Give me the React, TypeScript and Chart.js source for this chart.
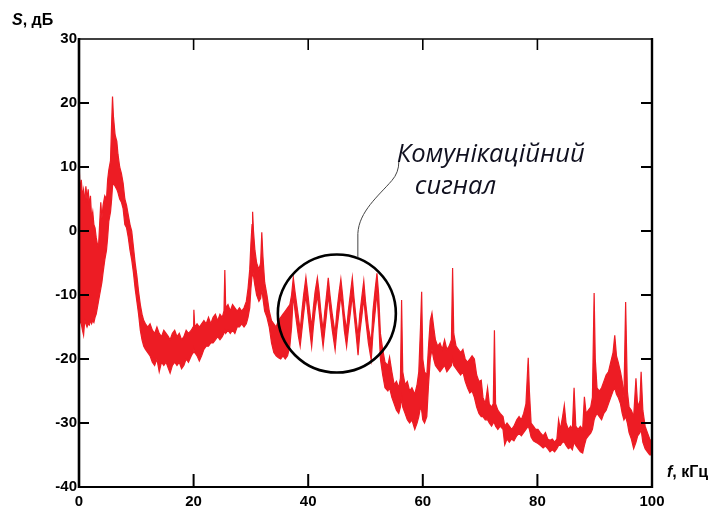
import { useEffect, useRef } from "react";
import { Chart, registerables } from "chart.js";

Chart.register(...registerables);

// Frequency, kHz
const freqKHz = [
  0, 0.2, 0.4, 0.6, 0.8, 1.0, 1.2, 1.4, 1.6, 1.8, 2.0, 2.2, 2.4, 2.6, 2.8, 3.0, 3.2, 3.4, 3.6, 3.8, 4.0, 4.2, 4.5, 4.8, 5.0, 5.2, 5.5, 5.7, 5.85, 6.0, 6.3, 6.6, 6.8, 7.1, 7.4, 7.7, 8.0, 8.3, 8.6, 8.9, 9.2, 9.5, 9.8, 10.1, 10.4, 10.7, 11.0, 11.3, 11.6, 12.0, 12.4, 12.8, 13.2, 13.6,
  14.0, 14.4, 14.8, 15.2, 15.6, 15.9, 16.3, 16.7, 17.1, 17.5, 17.9, 18.3, 18.7, 19.1, 19.6, 19.9, 20.05, 20.2, 20.6, 21.0, 21.4, 21.8, 22.2, 22.6, 23.0, 23.4, 23.8, 24.2, 24.6, 25.0, 25.3, 25.45, 25.6, 26.0, 26.4, 26.8, 27.2, 27.6, 28.0, 28.4, 28.8, 29.2, 29.5, 29.8, 30.0, 30.2, 30.3, 30.45, 30.7, 31.0, 31.4, 31.7, 31.9, 32.1, 32.4, 32.8, 33.2, 33.6, 34.0, 34.4, 34.8,
  35.2, 35.6, 36.0, 36.4, 36.8, 37.1, 37.4, 37.7, 38.0, 38.3, 38.6, 38.9, 39.2, 39.6, 39.9, 40.2, 40.6, 40.9, 41.2, 41.6, 41.9, 42.2, 42.6, 42.9, 43.2, 43.5, 43.8, 44.2, 44.7, 45.0, 45.4, 45.7, 46.0, 46.3, 46.7, 47.0, 47.4, 47.7, 48.0, 48.4, 48.7, 49.0, 49.4, 49.7, 50.0, 50.5, 51.0, 51.3, 51.7, 52.0, 52.3, 52.6, 53.0,
  53.4, 53.9, 54.2, 54.6, 55.0, 55.4, 55.8, 56.1, 56.3, 56.5, 56.9, 57.3, 57.7, 58.1, 58.6, 59.0, 59.3, 59.6, 59.8, 60.0, 60.3, 60.7, 61.0, 61.3, 61.6, 61.9, 62.2, 62.6, 63.0, 63.4, 63.8, 64.2, 64.6, 65.0, 65.2, 65.4, 65.8, 66.2, 66.6, 67.0, 67.4, 67.8, 68.2, 68.6, 69.0, 69.4, 69.8,
  70.2, 70.5, 70.9, 71.3, 71.6, 72.0, 72.3, 72.5, 72.7, 73.1, 73.5, 74.0, 74.3, 74.7, 75.1, 75.5, 75.9, 76.4, 76.8, 77.2, 77.6, 78.0, 78.4, 78.6, 78.9, 79.3, 79.7, 80.1, 80.5, 81.0, 81.4, 81.8, 82.2, 82.6, 83.0, 83.4, 83.7, 84.0, 84.4, 84.7, 85.0, 85.4, 85.8, 86.1, 86.4, 86.7, 87.1, 87.5, 87.9, 88.2, 88.5, 88.9, 89.3, 89.6, 89.9, 90.1, 90.4, 90.8, 91.2, 91.6, 92.0, 92.4, 92.8, 93.2, 93.5, 93.8, 94.1, 94.5, 94.8, 95.1, 95.4, 95.7, 96.0, 96.4, 96.8, 97.2, 97.5, 97.9, 98.1, 98.4, 98.8, 99.2, 99.6, 100,
];

// Upper envelope of the noisy spectrum, dB
const upperDb = [
  11, 6, 8, 5.5, 6.5, 4.5, 7, 5, 6.5, 4, 5.5, 2, 3, 1, 0.5, -1, -2, -2.5, 1, 4.5, 2, 4, 5.5, 5, 8, 9.5, 11, 17, 21, 18, 15, 14, 12, 10, 9, 7.5, 5, 4, 2.5, 1, 0, -2.5, -5, -7, -9.5, -11.5, -13, -14, -14.5, -15, -14.5, -15.5, -16, -15,
  -16, -16.5, -15.5, -16, -16.5, -17, -16, -15.5, -16.5, -16, -17, -16.5, -15.5, -16, -15.5, -15, -12.3, -15, -14.5, -15, -14.5, -14, -14.5, -13.5, -14.5, -13.5, -13, -14, -13, -13.5, -12.5, -6.1, -12, -11.5, -12.5, -11.5, -12, -12.5, -12, -12.5, -12, -11, -9, -6, -2, 1, 3, 0, -3, -5, -6, -5, -0.2, -4, -8, -10, -12.5, -14, -14.5, -15, -14,
  -13.5, -13, -12.5, -12, -11.5, -10, -7.3, -9.5, -11.5, -13.5, -15.5, -12.5, -10, -7.2, -9.5, -12, -15, -12, -9.5, -7.3, -9.5, -12.5, -15.5, -12.5, -10, -7.3, -10, -13, -16, -12.5, -9.5, -7.5, -10, -13, -15.5, -12.5, -9.5, -7.3, -10.5, -14, -16.5, -13, -10, -7.8, -11, -15, -17.5, -12.5, -9, -6.6, -10, -16, -18.5,
  -20.5, -21, -19.7, -22, -24, -23.5, -24.5, -23, -10.8, -22, -24, -23.5, -25, -24.5, -25.5, -24, -22, -15, -9.5, -20, -22, -22.5, -18, -14, -12.8, -15, -17, -18, -17.5, -18.5, -17, -18.5, -18, -17, -5.8, -16, -18, -18.5, -19, -18.5, -20, -20.5, -20, -19.5, -20, -22.5, -23.5,
  -23.3, -26, -27, -24.5, -27, -27.5, -27, -15.5, -27, -28, -28.5, -29, -30.5, -30, -30.5, -31, -30.5, -29.5, -29, -29.5, -28.5, -27, -19.8, -25, -30, -30.5, -31, -31, -31.5, -32, -31.5, -32.5, -32.7, -32.5, -33, -32.5, -29.5, -31, -29, -27.2, -30, -31, -30.5, -31, -24.5, -30.5, -31, -30.5, -31, -25.9, -28.5, -28, -27.5, -26, -9.7, -20, -24.5, -25, -24.5, -23.5, -22.5, -22, -20.5, -19, -16.3, -19.5, -20.5, -22, -23.5, -26, -11.1, -25, -27.5, -28, -29, -23, -27.5, -26.5, -22, -28, -30.5, -31.5, -32.5, -33,
];

// Lower envelope of the noisy spectrum, dB
const lowerDb = [
  -15, -14, -14.5, -15.5, -16.3, -14, -14.5, -15, -14.5, -14.7, -14, -14.5, -14, -14.3, -13.5, -13, -12, -11, -10, -9, -8, -6.5, -4.5, -3, -1, 1.5, 3, 5, 7, 7.5, 7, 6.5, 6, 5, 4.5, 3.5, 1, 0.5, -1, -3, -4.5, -6.5, -9, -11, -13, -15.5, -17, -18, -18.5, -19, -19.5, -20.5, -21, -20,
  -22, -20.5, -21, -20.5, -21.5, -22.2, -21, -20.5, -21, -20.5, -21.5, -21, -20, -20.5, -19.5, -19, -18.5, -19, -19.5, -20.3, -19.5, -18.5, -18, -18, -17.5, -17.5, -17, -16.5, -17, -16.5, -16, -15.5, -16, -15.5, -16, -15.5, -16, -15, -15, -14.5, -15, -14.5, -13.5, -12, -9, -7, -6, -7, -8.5, -10, -11, -10.5, -9, -10.5, -12.5, -13.5, -15, -17.5, -19, -19.5, -19.8,
  -20, -19.5, -20, -19.5, -18, -15, -10, -12.5, -14.5, -16.5, -18, -15.5, -13, -10, -12.5, -15, -18.1, -15, -12.5, -10, -12.5, -15, -18.1, -15.5, -13, -10, -12.5, -15.5, -18.6, -15.5, -12.5, -10, -12.5, -15.5, -18.1, -15.5, -12.5, -10, -13, -16.5, -19.4, -16, -13, -10.5, -13.5, -17.5, -20.2, -16, -12.5, -9.5, -14, -20, -22.5,
  -24.5, -25, -24.5, -26, -27, -28, -28.5, -27.5, -26, -27.5, -28.5, -29.5, -30, -29.5, -31, -30, -29, -27.5, -28, -29.5, -30, -29, -24, -20, -18.5, -20, -21, -21.5, -22, -21.5, -21, -22, -21.5, -21, -20, -21, -21.5, -22, -22.5, -22, -23.5, -24.5, -25.3, -25, -26, -27.5, -28.5,
  -29, -29, -29.5, -29.5, -30, -30.5, -30, -30, -30.5, -31, -30.5, -31, -33.4, -32.5, -33, -32.5, -32.8, -32, -31.6, -32, -31.5, -31, -30.5, -31, -32.2, -32.8, -33, -33.2, -33.5, -33.9, -33.6, -34, -34.5, -34.2, -34.5, -34, -33.5, -33.5, -33, -33, -33.5, -34, -33.8, -34.2, -33, -33.5, -34, -34.5, -34.7, -33.5, -32.5, -32, -31.6, -31, -29.5, -29, -28.5, -29, -29.5, -28.5, -28, -27, -26, -25, -24.5, -25.5, -26, -27, -28.5, -29.5, -29, -30, -31.5, -32.5, -34, -33, -32, -31.5, -31, -33, -34, -34.5, -35, -35,
];

const xTickValues = [0, 20, 40, 60, 80, 100];
const yTickValues = [-40, -30, -20, -10, 0, 10, 20, 30];

const yAxisTitle = ["S", ", дБ"];
const xAxisTitle = ["f", ", кГц"];
const annotationLines = ["Комунікаційний", "сигнал"];
// circle marking the communication signal (data units: kHz, dB)
const circleCenter = { f: 45.0, db: -12.9 };

const RED = "rgb(237, 28, 36)";

export default function App() {
  const ref = useRef<HTMLCanvasElement>(null);

  useEffect(() => {
    document.body.style.margin = "0";
    const canvas = ref.current;
    if (!canvas) return;

    const upperPts = freqKHz.map((f, i) => ({ x: f, y: upperDb[i] }));
    const lowerPts = freqKHz.map((f, i) => ({ x: f, y: lowerDb[i] }));

    const decorPlugin = {
      id: "decor",
      afterDraw(chart: any) {
        const ctx = chart.ctx as CanvasRenderingContext2D;
        const { left, right, top, bottom } = chart.chartArea;
        const xs = chart.scales.x;
        const ys = chart.scales.y;
        ctx.save();
        ctx.strokeStyle = "#000";
        ctx.lineCap = "butt";
        const line = (x1: number, y1: number, x2: number, y2: number, w: number) => {
          ctx.lineWidth = w;
          ctx.beginPath();
          ctx.moveTo(x1, y1);
          ctx.lineTo(x2, y2);
          ctx.stroke();
        };
        // frame
        line(left, top - 1, left, bottom + 1, 2.6);
        line(right, top - 1, right, bottom + 1, 2.4);
        line(left, top, right, top, 1.6);
        line(left, bottom, right, bottom, 2);
        // y ticks (inward)
        yTickValues.forEach((v) => {
          const y = ys.getPixelForValue(v);
          if (v !== -40 && v !== 30) {
            line(left, y, left + 10, y, 2);
            line(right - 11, y, right, y, 2);
          }
        });
        // x ticks (inward)
        xTickValues.forEach((v) => {
          if (v === 0 || v === 100) return;
          const x = xs.getPixelForValue(v);
          line(x, bottom, x, bottom - 13, 2);
          line(x, top, x, top + 11, 1.6);
        });

        // axis titles
        ctx.fillStyle = "#000";
        ctx.textBaseline = "alphabetic";
        ctx.textAlign = "left";
        ctx.font = 'italic bold 16px "Liberation Sans", Arial, sans-serif';
        ctx.fillText(yAxisTitle[0], 12, 25);
        let w = ctx.measureText(yAxisTitle[0]).width;
        ctx.font = 'bold 16px "Liberation Sans", Arial, sans-serif';
        ctx.fillText(yAxisTitle[1], 12 + w, 25);

        ctx.font = 'italic bold 16px "Liberation Sans", Arial, sans-serif';
        ctx.fillText(xAxisTitle[0], 667, 477);
        w = ctx.measureText(xAxisTitle[0]).width;
        ctx.font = 'bold 16px "Liberation Sans", Arial, sans-serif';
        ctx.fillText(xAxisTitle[1], 667 + w, 477);

        // circle around communication signal
        const cx = xs.getPixelForValue(circleCenter.f);
        const cy = ys.getPixelForValue(circleCenter.db);
        const r = 59;
        ctx.lineWidth = 2.6;
        ctx.strokeStyle = "#000";
        ctx.beginPath();
        ctx.arc(cx, cy, r, 0, Math.PI * 2);
        ctx.stroke();

        // leader line
        ctx.lineWidth = 1;
        ctx.strokeStyle = "#444";
        ctx.beginPath();
        ctx.moveTo(cx + 21, cy - 56);
        ctx.lineTo(cx + 21, cy - 80);
        ctx.bezierCurveTo(cx + 22, cy - 102, cx + 42, cy - 118, cx + 55, cy - 133);
        ctx.quadraticCurveTo(cx + 62, cy - 141, cx + 62, cy - 152);
        ctx.stroke();

        // annotation text
        ctx.fillStyle = "#10101f";
        const targetW = 188;
        ctx.font = 'italic 24px "Open Sans", "Noto Sans", sans-serif';
        const m = ctx.measureText(annotationLines[0]).width;
        const size = Math.round(((24 * targetW) / m) * 10) / 10;
        ctx.font = `italic ${size}px "Open Sans", "Noto Sans", sans-serif`;
        ctx.fillText(annotationLines[0], cx + 60, cy - 152);
        ctx.fillText(annotationLines[1], cx + 78, cy - 120);
        ctx.restore();
      },
    };

    const tickFont = { family: '"Liberation Sans", Arial, sans-serif', size: 15, weight: "bold" as const };

    const chart = new Chart(canvas, {
      type: "line",
      data: {
        datasets: [
          {
            label: "upper",
            data: upperPts,
            borderColor: RED,
            borderWidth: 1.2,
            pointRadius: 0,
            tension: 0,
            fill: false,
          },
          {
            label: "lower",
            data: lowerPts,
            borderColor: RED,
            borderWidth: 1.2,
            backgroundColor: RED,
            pointRadius: 0,
            tension: 0,
            fill: "-1",
          },
        ],
      },
      options: {
        responsive: false,
        animation: false,
        devicePixelRatio: 1,
        layout: { padding: { left: 0, top: 39, right: 61, bottom: 0 } },
        plugins: {
          legend: { display: false },
          tooltip: { enabled: false },
        },
        scales: {
          x: {
            type: "linear",
            min: 0,
            max: 100,
            grid: { display: false, drawTicks: false },
            border: { display: false },
            ticks: {
              stepSize: 20,
              autoSkip: false,
              maxRotation: 0,
              padding: 6,
              color: "#000",
              font: tickFont,
            },
            afterFit: (s: any) => {
              s.height = 21;
            },
          },
          y: {
            type: "linear",
            min: -40,
            max: 30,
            grid: { display: false, drawTicks: false },
            border: { display: false },
            ticks: {
              stepSize: 10,
              padding: 2,
              color: "#000",
              font: tickFont,
            },
            afterFit: (s: any) => {
              s.width = 79;
            },
          },
        },
      },
      plugins: [decorPlugin],
    });

    return () => chart.destroy();
  }, []);

  return (
    <div style={{ width: 713, height: 508, position: "relative", background: "#fff" }}>
      <canvas ref={ref} width={713} height={508} style={{ display: "block", width: 713, height: 508 }} />
    </div>
  );
}
